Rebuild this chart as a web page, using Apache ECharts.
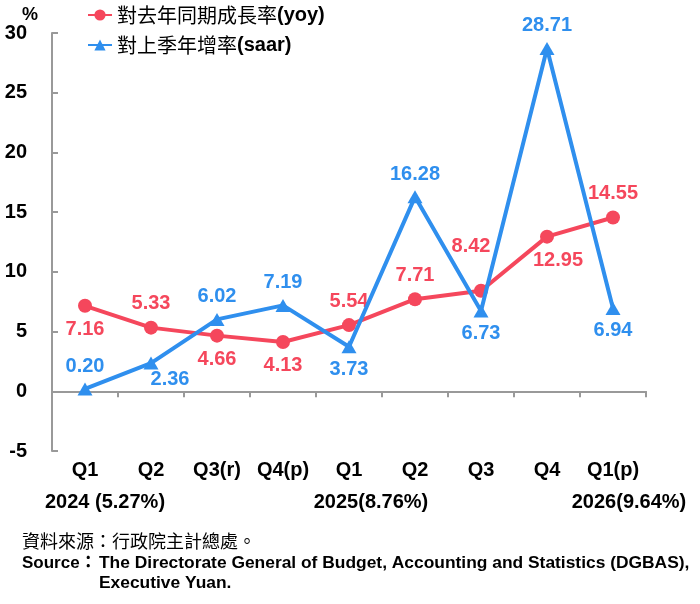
<!DOCTYPE html>
<html lang="zh-Hant">
<head>
  <meta charset="UTF-8">
  <title>經濟成長率</title>
  <script src="https://cdn.jsdelivr.net/npm/echarts@6/dist/echarts.min.js"></script>
  <style>
    html, body { margin: 0; padding: 0; background: #fff; }
    #chart { width: 700px; height: 604px; }
  </style>
</head>
<body>
  <div id="chart"></div>
<script>
  // 資料
  const quarters = ['Q1', 'Q2', 'Q3(r)', 'Q4(p)', 'Q1', 'Q2', 'Q3', 'Q4', 'Q1(p)'];
  const yoy = [7.16, 5.33, 4.66, 4.13, 5.54, 7.71, 8.42, 12.95, 14.55];
  const saar = [0.20, 2.36, 6.02, 7.19, 3.73, 16.28, 6.73, 28.71, 6.94];
  const yearLabels = ['2024 (5.27%)', '2025(8.76%)', '2026(9.64%)'];
  const yTicks = [-5, 0, 5, 10, 15, 20, 25, 30];

  const RED = '#F5475C';
  const BLUE = '#2F8FEE';
  const FONT = '"Liberation Sans", Arial, "Noto Sans CJK TC", sans-serif';
  const CJK = '"Noto Sans CJK TC", "Liberation Sans", sans-serif';

  // label placement per point
  const yoyLabel = [
    { position: 'bottom' },
    { position: 'top' },
    { position: 'bottom' },
    { position: 'bottom' },
    { position: 'top' },
    { position: 'top' },
    { position: 'top', offset: [-10, -20] },
    { position: 'bottom', offset: [11, 0] },
    { position: 'top' },
  ];
  const saarLabel = [
    { position: 'top' },
    { position: 'bottom', offset: [19, -6] },
    { position: 'top' },
    { position: 'top' },
    { position: 'bottom' },
    { position: 'top' },
    { position: 'bottom' },
    { position: 'top' },
    { position: 'bottom' },
  ];

  const fmt = (p) => p.value.toFixed(2);

  function buildData(values, labels) {
    return values.map((v, i) => ({ value: v, label: labels[i] }));
  }

  const chart = echarts.init(document.getElementById('chart'));

  chart.setOption({
    animation: false,
    textStyle: { fontFamily: FONT },
    grid: { left: 52, right: 54, top: 33, bottom: 153 },
    legend: {
      orient: 'vertical',
      left: 82,
      top: 0,
      itemGap: 10,
      itemWidth: 24,
      itemHeight: 14,
      textStyle: {
        fontSize: 20,
        color: '#000',
        rich: {
          c: { fontFamily: CJK, fontSize: 20, fontWeight: 'normal', color: '#000' },
          e: { fontFamily: FONT, fontSize: 20, fontWeight: 'bold', color: '#000' },
        },
      },
      formatter: (name) => {
        const k = name.indexOf('(');
        return '{c|' + name.slice(0, k) + '}{e|' + name.slice(k) + '}';
      },
    },
    xAxis: {
      type: 'category',
      data: quarters,
      boundaryGap: true,
      axisLine: { onZero: true, lineStyle: { color: '#999', width: 2 } },
      axisTick: { show: true, interval: 0, length: 6, lineStyle: { color: '#999', width: 2 } },
      axisLabel: {
        interval: 0,
        margin: 9,
        color: '#000',
        fontSize: 20,
        fontWeight: 'bold',
        fontFamily: FONT,
      },
      splitLine: { show: false },
    },
    yAxis: {
      type: 'value',
      min: yTicks[0],
      max: yTicks[yTicks.length - 1],
      interval: 5,
      axisLine: { show: true, lineStyle: { color: '#999', width: 2 } },
      axisTick: { show: true, inside: true, length: 6, lineStyle: { color: '#999', width: 2 } },
      axisLabel: {
        margin: 25,
        color: '#000',
        fontSize: 20,
        fontWeight: 'bold',
        fontFamily: FONT,
      },
      splitLine: { show: false },
    },
    series: [
      {
        name: '對去年同期成長率(yoy)',
        type: 'line',
        data: buildData(yoy, yoyLabel),
        symbol: 'circle',
        symbolSize: 14,
        lineStyle: { color: RED, width: 4 },
        itemStyle: { color: RED },
        label: {
          show: true,
          distance: 7,
          formatter: fmt,
          color: RED,
          fontSize: 20,
          fontWeight: 'bold',
          fontFamily: FONT,
        },
        z: 2,
      },
      {
        name: '對上季年增率(saar)',
        type: 'line',
        data: buildData(saar, saarLabel),
        symbol: 'triangle',
        symbolSize: [15, 13],
        lineStyle: { color: BLUE, width: 4 },
        itemStyle: { color: BLUE },
        label: {
          show: true,
          distance: 6,
          formatter: fmt,
          color: BLUE,
          fontSize: 20,
          fontWeight: 'bold',
          fontFamily: FONT,
        },
        z: 3,
      },
    ],
    graphic: [
      {
        type: 'text', left: 22, top: 6,
        style: { text: '%', fill: '#000', font: 'bold 18px ' + FONT },
      },
      {
        type: 'text', x: 105, y: 502,
        style: { text: yearLabels[0], fill: '#000', font: 'bold 20px ' + FONT, align: 'center', verticalAlign: 'middle' },
      },
      {
        type: 'text', x: 371, y: 502,
        style: { text: yearLabels[1], fill: '#000', font: 'bold 20px ' + FONT, align: 'center', verticalAlign: 'middle' },
      },
      {
        type: 'text', x: 629, y: 502,
        style: { text: yearLabels[2], fill: '#000', font: 'bold 20px ' + FONT, align: 'center', verticalAlign: 'middle' },
      },
      {
        type: 'text', x: 22, y: 541,
        style: { text: '資料來源：行政院主計總處。', fill: '#000', font: '18px ' + CJK, verticalAlign: 'middle' },
      },
      {
        type: 'text', x: 22, y: 563,
        style: { text: 'Source：', fill: '#000', font: 'bold 17px ' + FONT, verticalAlign: 'middle' },
      },
      {
        type: 'text', x: 99, y: 563,
        style: { text: 'The Directorate General of Budget, Accounting and Statistics (DGBAS),', fill: '#000', font: 'bold 17.4px ' + FONT, verticalAlign: 'middle' },
      },
      {
        type: 'text', x: 99, y: 583,
        style: { text: 'Executive Yuan.', fill: '#000', font: 'bold 17.4px ' + FONT, verticalAlign: 'middle' },
      },
    ],
  });
</script>
</body>
</html>
